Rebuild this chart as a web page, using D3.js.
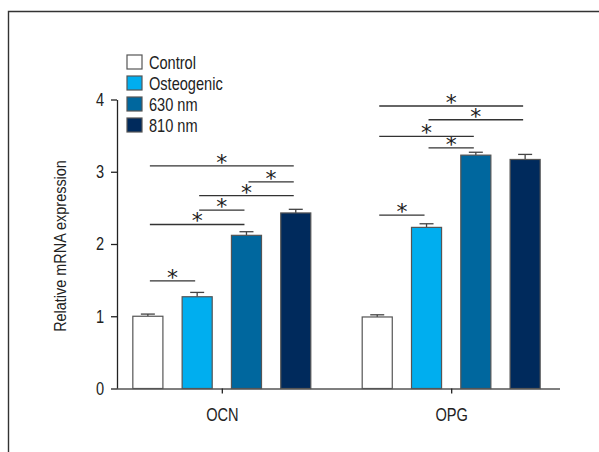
<!DOCTYPE html>
<html>
<head>
<meta charset="utf-8">
<script src="https://cdn.jsdelivr.net/npm/d3@7"></script>
<style>
  html, body { margin: 0; padding: 0; background: #fff; }
  svg text { font-family: "Liberation Sans", Arial, sans-serif; fill: #222; }
</style>
</head>
<body>
<div id="chart"></div>
<script>
// data
var genes = ["OCN", "OPG"];
var groups = ["Control", "Osteogenic", "630 nm", "810 nm"];
var colors = ["#ffffff", "#00aeef", "#00679e", "#002a5c"];
var ocnMean = [1.00, 1.27, 2.12, 2.43];
var ocnErr  = [0.03, 0.06, 0.05, 0.05];
var opgMean = [0.99, 2.23, 3.23, 3.17];
var opgErr  = [0.03, 0.05, 0.04, 0.07];
var yTicks = [0, 1, 2, 3, 4];
// significance brackets: gene, from group, to group, height (axis units)
var sigGene  = ["OCN", "OCN", "OCN", "OCN", "OCN", "OCN", "OPG", "OPG", "OPG", "OPG", "OPG"];
var sigFrom  = [0, 0, 1, 1, 2, 0, 0, 1, 0, 1, 0];
var sigTo    = [1, 2, 2, 3, 3, 3, 1, 2, 2, 3, 3];
var sigLevel = [1.49, 2.27, 2.47, 2.67, 2.86, 3.08, 2.40, 3.33, 3.49, 3.72, 3.91];

var width = 599, height = 452;
var narrow = 0.81; // the original type is condensed, squeeze Liberation Sans to match

var svg = d3.select("#chart").append("svg")
    .attr("width", width)
    .attr("height", height);

// frame (only top and left edges show)
svg.append("path")
    .attr("d", "M8.5,452 V11.5 H599")
    .attr("fill", "none")
    .attr("stroke", "#333")
    .attr("stroke-width", 1.4);

var y = d3.scaleLinear().domain([0, 4]).range([388.5, 99.5]);
var x = d3.scalePoint().domain(genes).range([117, 556]).padding(0.457);
var xs = d3.scaleBand().domain(groups).range([-98.6, 98.6])
    .paddingInner(0.39).paddingOuter(0.195);

var rows = [];
genes.forEach(function(g, gi) {
  var means = gi === 0 ? ocnMean : opgMean;
  var errs = gi === 0 ? ocnErr : opgErr;
  groups.forEach(function(s, si) {
    rows.push({gene: g, group: s, i: si, mean: means[si], err: errs[si]});
  });
});

// y axis
var yAxis = svg.append("g")
    .attr("transform", "translate(117,0)")
    .call(d3.axisLeft(y).tickValues(yTicks).tickFormat(d3.format("d")).tickSize(6).tickSizeOuter(0));
yAxis.select(".domain").attr("stroke", "#222").attr("stroke-width", 1.3);
yAxis.selectAll(".tick line").attr("stroke", "#222").attr("stroke-width", 1.3);
yAxis.selectAll(".tick text")
    .attr("x", -13 / narrow)
    .attr("transform", "scale(" + narrow + ",1)")
    .style("font-size", "18px")
    .attr("fill", "#222");

// x axis
var xAxis = svg.append("g")
    .attr("transform", "translate(0,388.5)")
    .call(d3.axisBottom(x).tickSize(5).tickSizeOuter(0));
xAxis.select(".domain").attr("d", "M117,0.5H560").attr("stroke", "#555").attr("stroke-width", 1.5);
xAxis.selectAll(".tick line").attr("stroke", "#222").attr("stroke-width", 1.3);
xAxis.selectAll(".tick text")
    .attr("y", 20)
    .attr("transform", "scale(" + narrow + ",1)")
    .style("font-size", "18px")
    .attr("fill", "#222");

// y label
svg.append("text")
    .attr("transform", "translate(66," + (y(2) + 2) + ") rotate(-90) scale(0.85,1)")
    .attr("text-anchor", "middle")
    .style("font-size", "17px")
    .text("Relative mRNA expression");

// error bars
var eb = svg.append("g").selectAll("g").data(rows).enter().append("g")
    .attr("transform", function(d) { return "translate(" + (x(d.gene) + xs(d.group) + xs.bandwidth() / 2) + ",0)"; });
eb.append("line")
    .attr("y1", function(d) { return y(d.mean); })
    .attr("y2", function(d) { return y(d.mean + d.err); })
    .attr("stroke", "#444").attr("stroke-width", 1.3);
eb.append("line")
    .attr("x1", -7).attr("x2", 7)
    .attr("y1", function(d) { return y(d.mean + d.err); })
    .attr("y2", function(d) { return y(d.mean + d.err); })
    .attr("stroke", "#444").attr("stroke-width", 1.3);

// bars
svg.append("g").selectAll("rect").data(rows).enter().append("rect")
    .attr("x", function(d) { return x(d.gene) + xs(d.group); })
    .attr("y", function(d) { return y(d.mean); })
    .attr("width", xs.bandwidth())
    .attr("height", function(d) { return y(0) - y(d.mean); })
    .attr("fill", function(d) { return colors[d.i]; })
    .attr("stroke", "#555")
    .attr("stroke-width", 1.2);

// significance lines and stars
var sig = sigGene.map(function(g, k) {
  var a = x(g) + xs(groups[sigFrom[k]]) + xs.bandwidth() / 2;
  var b = x(g) + xs(groups[sigTo[k]]) + xs.bandwidth() / 2;
  return {x1: a + 2, x2: b - 2, level: sigLevel[k]};
});
var sg = svg.append("g").selectAll("g").data(sig).enter().append("g");
sg.append("line")
    .attr("x1", function(d) { return d.x1; })
    .attr("x2", function(d) { return d.x2; })
    .attr("y1", function(d) { return y(d.level); })
    .attr("y2", function(d) { return y(d.level); })
    .attr("stroke", "#333").attr("stroke-width", 1.3);
sg.append("text")
    .attr("x", function(d) { return (d.x1 + d.x2) / 2; })
    .attr("y", function(d) { return y(d.level) + 4; })
    .attr("text-anchor", "middle")
    .style("font-family", "'DejaVu Sans', sans-serif")
    .style("font-size", "22px")
    .attr("fill", "#444")
    .text("*");

// legend
var leg = svg.append("g").attr("transform", "translate(127,55)")
    .selectAll("g").data(groups).enter().append("g")
    .attr("transform", function(d, i) { return "translate(0," + i * 21 + ")"; });
leg.append("rect")
    .attr("width", 15).attr("height", 14)
    .attr("fill", function(d, i) { return colors[i]; })
    .attr("stroke", "#555").attr("stroke-width", 1.2);
leg.append("text")
    .attr("transform", "translate(22,14) scale(" + narrow + ",1)")
    .style("font-size", "18px")
    .text(function(d) { return d; });
</script>
</body>
</html>
